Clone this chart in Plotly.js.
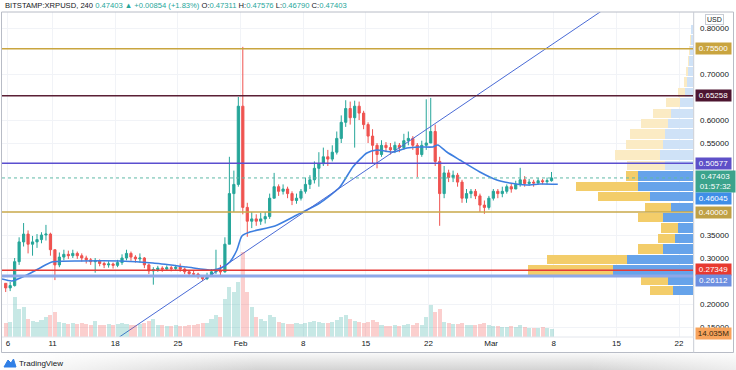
<!DOCTYPE html>
<html><head><meta charset="utf-8">
<script src="https://cdn.plot.ly/plotly-3.0.1.min.js"></script>
<style>
html,body{margin:0;padding:0;background:#fff;width:736px;height:370px;overflow:hidden;}
#shade{position:absolute;left:0;top:352px;width:736px;height:18px;
background:linear-gradient(to right,#fff 0%,rgba(255,255,255,0) 35%,rgba(255,255,255,0) 80%,rgba(255,255,255,0.6) 100%),linear-gradient(to bottom,#fbfbfb,#d3d3d3);z-index:0;}
#chart{position:absolute;left:0;top:0;width:736px;height:370px;z-index:1;}
</style></head>
<body><div id="shade"></div><div id="chart"></div>
<script>
// ---- candle data (12h candles) ----
const firstCandleCenter = '2021-01-05T18:00:00Z';
const candleHours = 12;
const firstOpen = 0.245;
const closes = [.235,.240,.292,.335,.352,.330,.335,.340,.350,.352,
.318,.285,.302,.308,.305,.310,.305,.300,.296,.292,
.294,.288,.285,.287,.284,.290,.300,.310,.302,.298,
.300,.285,.272,.275,.278,.276,.279,.277,.280,.276,
.270,.266,.265,.260,.255,.262,.270,.272,.270,.330,
.440,.460,.630,.410,.380,.385,.380,.385,.390,.430,
.455,.445,.450,.440,.425,.430,.445,.460,.470,.495,
.505,.520,.515,.530,.560,.595,.625,.605,.630,.615,
.590,.565,.545,.525,.545,.540,.535,.545,.540,.555,
.560,.545,.525,.545,.550,.575,.510,.440,.485,.475,
.480,.465,.430,.440,.445,.435,.415,.410,.430,.445,
.440,.445,.455,.450,.460,.470,.462,.465,.463,.468,
.466,.468,.47403];
const highs = [.245,.248,.300,.345,.376,.360,.348,.352,.356,.372,
.355,.318,.312,.318,.316,.318,.314,.310,.305,.300,
.300,.297,.292,.293,.290,.296,.308,.318,.314,.306,
.310,.302,.288,.280,.283,.282,.284,.283,.285,.288,
.279,.274,.272,.268,.263,.268,.276,.318,.285,.345,
.520,.490,.650,.759,.420,.400,.395,.398,.400,.440,
.485,.460,.460,.455,.445,.440,.450,.475,.480,.510,
.530,.540,.535,.545,.575,.610,.643,.640,.642,.640,
.620,.595,.580,.550,.556,.552,.550,.553,.550,.570,
.575,.565,.550,.555,.645,.648,.590,.520,.500,.492,
.490,.485,.470,.450,.450,.450,.440,.425,.435,.450,
.450,.455,.460,.462,.468,.496,.478,.472,.470,.474,
.472,.475,.487];
const lows = [.226,.228,.238,.285,.325,.310,.305,.322,.332,.338,
.305,.252,.280,.295,.298,.300,.298,.292,.288,.285,
.268,.282,.278,.279,.277,.280,.285,.295,.294,.290,
.290,.278,.265,.242,.270,.270,.272,.271,.272,.270,
.265,.260,.259,.255,.250,.252,.260,.265,.262,.268,
.330,.400,.455,.395,.346,.365,.370,.372,.375,.385,
.430,.435,.438,.430,.415,.418,.425,.440,.450,.462,
.455,.500,.500,.510,.525,.550,.585,.590,.540,.600,
.580,.550,.505,.495,.520,.530,.525,.528,.530,.535,
.545,.535,.476,.520,.535,.560,.500,.370,.430,.465,
.465,.455,.420,.420,.430,.428,.400,.396,.405,.425,
.430,.432,.440,.442,.450,.455,.455,.457,.455,.460,
.460,.460,.466];
// volume per candle, millions
const volumes = [140,150,400,280,300,180,160,150,170,200,
220,250,150,140,130,140,130,140,130,120,
160,120,120,130,120,130,140,130,120,120,
130,140,160,180,120,120,110,110,120,110,
110,120,120,130,140,140,180,220,200,380,
500,450,550,850,450,300,200,180,160,220,
200,150,140,130,130,140,130,140,150,160,
150,140,140,150,170,200,220,180,160,150,
140,150,170,150,120,110,110,120,110,120,
130,120,140,120,200,320,250,280,150,140,
130,130,140,120,120,120,130,140,120,110,
110,100,100,110,100,120,100,90,90,90,
100,90,80];
// moving average line
const maDates = ['2021-01-05 08:00','2021-01-06 11:00','2021-01-07 21:30','2021-01-09 13:50','2021-01-10 22:00','2021-01-14 01:00','2021-01-18 12:00','2021-01-22 05:00','2021-01-26 00:00','2021-01-28 21:40','2021-01-30 00:30','2021-01-30 19:10','2021-01-31 14:10','2021-02-01 03:35','2021-02-02 01:00','2021-02-04 20:00','2021-02-07 07:00','2021-02-09 20:40','2021-02-12 02:15','2021-02-13 13:10','2021-02-15 02:40','2021-02-16 05:30','2021-02-18 00:30','2021-02-19 14:00','2021-02-21 00:45','2021-02-22 11:45','2021-02-23 01:00','2021-02-24 01:10','2021-02-25 12:00','2021-02-27 17:45','2021-03-01 15:20','2021-03-03 02:10','2021-03-04 23:45','2021-03-06 10:35','2021-03-08 10:50'];
const maValues = [0.2543,0.2500,0.2609,0.2783,0.2913,0.2935,0.2935,0.2891,0.2804,0.2739,0.2804,0.2913,0.3174,0.3478,0.3565,0.3696,0.3935,0.4196,0.4543,0.4978,0.5283,0.5348,0.5304,0.5391,0.5413,0.5413,0.5457,0.5304,0.5130,0.4870,0.4696,0.4630,0.4587,0.4609,0.46045];
// trend line anchors
const trendDates = ['2021-01-18 11:00','2021-03-15 09:00'];
const trendPrices = [0.1283,0.8637];
// horizontal levels
const levelValues = [0.7550,0.65258,0.50577,0.40000,0.27349,0.26112];
const levelLabels = ['0.75500','0.65258','0.50577','0.40000','0.27349','0.26112'];
const levelColors = ['#c9a53f','#5a1f35','#5a4fcf','#c8a84a','#e53935','#8ea8e8'];
const levelLabelBg = ['#c9a43f','#4d1530','#5e50c8','#bfa045','#e8392f','#6d8fe0'];
const levelWidths = [1.5,1.5,1.5,1.5,1.5,3];
const levelLabelShift = [0,0,0,0,1,-5];
const lastPrice = 0.47403, lastPriceLabel = '0.47403', countdown = '01:57:32';
const maLastLabel = '0.46045';
const lastVolumeLabel = '14.035M', lastVolume = 14.035;
// volume profile (rows)
const profilePrices = [.2288,.2515,.2742,.2969,.3196,.3423,.3650,.3877,.4104,.4331,.4558,.4785,.5012,.5239,.5466,.5693,.5920,.6147,.6374,.6601,.6828,.7055,.7282,.7509,.7736,.7963];
const profileUp   = [20,25,80,66,30,18,15,30,22,43,55,55,28,33,30,28,25,22,13,8,6,5,4,3,2,2];
const profileDown = [23,27,85,80,25,17,17,25,26,52,62,12,38,45,37,35,27,18,14,7,3,2,1,1,1,0];
const valueAreaRows = 12;
const profileRowHeight = 0.0227;
// axis ticks (only the price labels that are not covered by level tags)
const dateTicks = ['2021-01-06','2021-01-11','2021-01-18','2021-01-25','2021-02-01','2021-02-08','2021-02-15','2021-02-22','2021-03-01','2021-03-08','2021-03-15','2021-03-22'];
const dateTickText = ['6','11','18','25','Feb','8','15','22','Mar','8','15','22'];
const priceTicks = [0.15,0.20,0.30,0.35,0.55,0.60,0.70,0.80];
const priceTickText = ['0.15000','0.20000','0.30000','0.35000','0.55000','0.60000','0.70000','0.80000'];
const headerText = 'BITSTAMP:XRPUSD, 240 <span style="color:#26a69a">0.47403 ▲ +0.00854 (+1.83%)</span> O:<span style="color:#26a69a">0.47311</span> H:<span style="color:#26a69a">0.47576</span> L:<span style="color:#26a69a">0.46790</span> C:<span style="color:#26a69a">0.47403</span>';

// ---- build ----
const FONT = 'Liberation Sans, Arial, sans-serif';
const t0 = new Date(firstCandleCenter).getTime();
function fmt(ms){const d=new Date(ms);const p=n=>String(n).padStart(2,'0');
 return d.getUTCFullYear()+'-'+p(d.getUTCMonth()+1)+'-'+p(d.getUTCDate())+' '+p(d.getUTCHours())+':'+p(d.getUTCMinutes());}
const times = closes.map((_,i)=>fmt(t0+i*candleHours*3600e3));
const opens = [firstOpen].concat(closes.slice(0,-1));
const UP='#26a69a', DN='#ef5350';

const volTrace = {type:'bar', x:times, y:volumes, xaxis:'x', yaxis:'y3', width:candleHours*3600e3*0.9,
  marker:{color:closes.map((c,i)=>c>=opens[i]?'rgba(38,166,154,0.26)':'rgba(239,83,80,0.28)'), line:{width:0}},
  hoverinfo:'skip', showlegend:false};
const profUp = {type:'bar', orientation:'h', y:profilePrices, x:profileUp, xaxis:'x2', yaxis:'y',
  width:profileRowHeight*0.9, marker:{color:profilePrices.map((_,k)=>k<valueAreaRows?'#66a3ea':'#cfe2f7'), line:{width:0}}, showlegend:false, hoverinfo:'skip'};
const profDn = {type:'bar', orientation:'h', y:profilePrices, x:profileDown, xaxis:'x2', yaxis:'y',
  width:profileRowHeight*0.9, marker:{color:profilePrices.map((_,k)=>k<valueAreaRows?'#f3cd6a':'#fbebc4'), line:{width:0}}, showlegend:false, hoverinfo:'skip'};
const candles = {type:'candlestick', x:times, open:opens, high:highs, low:lows, close:closes,
  xaxis:'x', yaxis:'y', whiskerwidth:0,
  increasing:{line:{color:UP,width:1}, fillcolor:UP}, decreasing:{line:{color:DN,width:1}, fillcolor:DN}, showlegend:false};
const maTrace = {type:'scatter', mode:'lines', x:maDates, y:maValues, line:{color:'#3d7fe0', width:1.6, shape:'spline', smoothing:0.6}, showlegend:false, hoverinfo:'skip'};
const trendTrace = {type:'scatter', mode:'lines', x:trendDates, y:trendPrices, line:{color:'#4a6bd6', width:1}, showlegend:false, hoverinfo:'skip'};

const px2paperX = px => (px-2)/691, px2paperY = py => (337-py)/325;
const shapes = [];
// frame
shapes.push({type:'rect', xref:'paper', yref:'paper', x0:px2paperX(1.5), x1:px2paperX(733.5), y0:px2paperY(352.5), y1:px2paperY(12), line:{color:'#b8bcc6', width:1}, layer:'above'});
shapes.push({type:'line', xref:'paper', yref:'paper', x0:1.001, x1:1.001, y0:px2paperY(352.5), y1:1, line:{color:'#c8ccd4', width:1}, layer:'above'});
shapes.push({type:'line', xref:'paper', yref:'paper', x0:0, x1:1.001, y0:0, y1:0, line:{color:'#e3e6ec', width:1}, layer:'above'});
levelValues.forEach((v,i)=>shapes.push({type:'line', xref:'paper', yref:'y', x0:0, x1:1, y0:v, y1:v, line:{color:levelColors[i], width:levelWidths[i]}, layer:'above'}));
shapes.push({type:'line', xref:'paper', yref:'y', x0:0, x1:1, y0:lastPrice, y1:lastPrice, line:{color:'#5fb9a6', width:1, dash:'dot'}, layer:'above'});
// logo
shapes.push({type:'path', xref:'paper', yref:'paper',
  path:'M '+px2paperX(4)+','+px2paperY(367)+' L '+px2paperX(8)+','+px2paperY(360)+' L '+px2paperX(11)+','+px2paperY(363)+' L '+px2paperX(13.5)+','+px2paperY(359)+' L '+px2paperX(16)+','+px2paperY(367)+' Z',
  fillcolor:'#2f7fe6', line:{color:'#2f7fe6', width:1}});

const ann = [];
ann.push({xref:'paper', yref:'paper', x:px2paperX(3), y:px2paperY(6), xanchor:'left', yanchor:'middle', showarrow:false, text:headerText, font:{family:FONT, size:7.6, color:'#131722'}});
ann.push({xref:'paper', yref:'paper', x:px2paperX(17), y:px2paperY(363), xanchor:'left', yanchor:'middle', showarrow:false, text:'TradingView', font:{family:FONT, size:8, color:'#131722'}});
ann.push({xref:'paper', yref:'paper', x:px2paperX(714), y:px2paperY(20), xanchor:'center', yanchor:'middle', showarrow:false, text:'USD', font:{family:FONT, size:7, color:'#131722'}, bgcolor:'#fff', bordercolor:'#c8ccd4', borderwidth:1, borderpad:1});
function label(yv, txt, bg, shift, color, w){
  ann.push({xref:'paper', yref:'y', x:1, y:yv, xanchor:'left', yanchor:'middle', xshift:2, yshift:shift||0, showarrow:false,
    text:txt, font:{family:FONT, size:8, color:color||'#fff'}, bgcolor:bg, width:w||33, height:w===37?19:9, align:'center', borderpad:1});
}
levelValues.forEach((v,i)=>label(v, levelLabels[i], levelLabelBg[i], levelLabelShift[i]));
label(lastPrice, lastPriceLabel+'<br>'+countdown, '#3ba38c', -4, '#fff', 37);
label(maValues[maValues.length-1], maLastLabel, '#3f8ee8', -14);
ann.push({xref:'paper', yref:'y3', x:1, y:lastVolume, xanchor:'left', yanchor:'middle', xshift:2, yshift:2.5, showarrow:false,
  text:lastVolumeLabel, font:{family:FONT, size:8, color:'#3a2a10'}, bgcolor:'#f7a35c', width:33, height:9, borderpad:1});

const layout = {
  width:736, height:370, margin:{l:2, r:43, t:12, b:33},
  paper_bgcolor:'rgba(0,0,0,0)', plot_bgcolor:'#fff', barmode:'stack', bargap:0, showlegend:false,
  xaxis:{type:'date', range:['2021-01-05 08:05','2021-03-23 13:30'], tickvals:dateTicks, ticktext:dateTickText,
    showgrid:true, gridcolor:'#f1f3f7', gridwidth:1, zeroline:false, showline:false, ticks:'',
    tickfont:{family:FONT, size:8, color:'#131722'}, rangeslider:{visible:false}, fixedrange:true},
  xaxis2:{overlaying:'x', range:[691,0], visible:false, fixedrange:true},
  yaxis:{side:'right', range:[0.12826,0.83478], tickvals:priceTicks, ticktext:priceTickText,
    showgrid:true, gridcolor:'#f1f3f7', zeroline:false, showline:false, ticks:'', ticklabelstandoff:6,
    tickfont:{family:FONT, size:8, color:'#131722'}, fixedrange:true},
  yaxis3:{overlaying:'y', range:[0,3250], visible:false, fixedrange:true},
  shapes:shapes, annotations:ann
};
Plotly.newPlot('chart', [volTrace, profUp, profDn, candles, maTrace, trendTrace], layout, {displayModeBar:false, staticPlot:true});
</script></body></html>
